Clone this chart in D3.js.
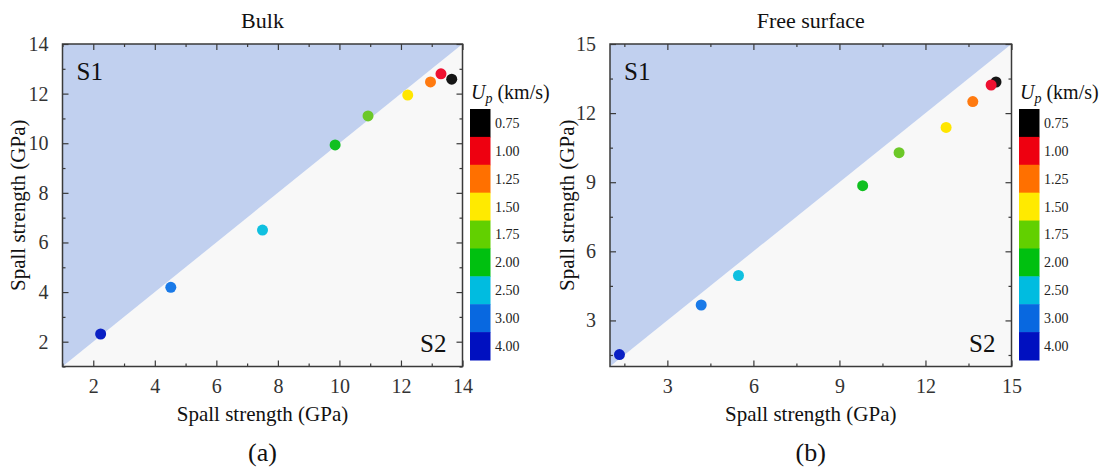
<!DOCTYPE html>
<meta charset="utf-8">
<style>
body { margin: 0; background: #fff; }
svg text { font-family: "Liberation Serif", "Times New Roman", serif; }
.frame { fill: none; stroke: #3a3a3a; stroke-width: 1.5px; }
.axis path { display: none; }
.axis line { stroke: #3a3a3a; stroke-width: 1.2px; }
.axis text { font-size: 20px; fill: #333; }
</style>
<svg width="1108" height="470"></svg>
<script src="https://cdn.jsdelivr.net/npm/d3@7"></script>
<script>

// Up values (km/s) and their colours, shared by both panels
var upLabels = ["0.75", "1.00", "1.25", "1.50", "1.75", "2.00", "2.50", "3.00", "4.00"];
var upColors = ["#000000", "#ee0010", "#ff7000", "#ffea00", "#62d000", "#00c010", "#00bce0", "#0868e0", "#0010c0"];
var dotColors = ["#151515", "#ee1030", "#ff7a10", "#ffe600", "#6cc828", "#10c020", "#10c0e0", "#1a7ae8", "#0a20c4"];

// (a) Bulk
var bulkX = [13.65, 13.30, 12.96, 12.22, 10.93, 9.86, 7.50, 4.52, 2.24];
var bulkY = [12.58, 12.80, 12.47, 11.94, 11.10, 9.93, 6.50, 4.19, 2.31];
var bulkMajor = [2, 4, 6, 8, 10, 12, 14];
var bulkMinor = [1, 3, 5, 7, 9, 11, 13];

// (b) Free surface
var freeX = [14.46, 14.29, 13.65, 12.72, 11.08, 9.81, 5.48, 4.18, 1.33];
var freeY = [13.35, 13.22, 12.50, 11.38, 10.28, 8.85, 4.95, 3.67, 1.52];
var freeMajor = [3, 6, 9, 12, 15];
var freeMinor = [1.5, 4.5, 7.5, 10.5, 13.5];

var svg = d3.select("svg");

var panels = [
  {title: "Bulk", tag: "(a)", left: 62.5, right: 462.5, domain: [1, 14],
   xs: bulkX, ys: bulkY, major: bulkMajor, minor: bulkMinor, cbX: 470, ylabX: 25},
  {title: "Free surface", tag: "(b)", left: 610, right: 1011.5, domain: [1, 15],
   xs: freeX, ys: freeY, major: freeMajor, minor: freeMinor, cbX: 1019, ylabX: 574}
];

var plotTop = 44, plotBottom = 366.5;
var serif = "Liberation Serif, Times New Roman, serif";

panels.forEach(function(p) {
  var x = d3.scaleLinear().domain(p.domain).range([p.left, p.right]),
      y = d3.scaleLinear().domain(p.domain).range([plotBottom, plotTop]);
  var d0 = p.domain[0], d1 = p.domain[1];
  var g = svg.append("g");

  // regions either side of the diagonal
  g.append("path")
      .attr("d", "M" + x(d0) + "," + y(d0) + "L" + x(d1) + "," + y(d0) + "L" + x(d1) + "," + y(d1) + "Z")
      .attr("fill", "#f8f8f8");
  g.append("path")
      .attr("d", "M" + x(d0) + "," + y(d0) + "L" + x(d0) + "," + y(d1) + "L" + x(d1) + "," + y(d1) + "Z")
      .attr("fill", "#c1d0ef");

  // ticks (all inward)
  function ax(axis, tx, ty) {
    g.append("g").attr("class", "axis")
        .attr("transform", "translate(" + tx + "," + ty + ")")
        .call(axis)
        .attr("font-family", serif).attr("font-size", 20);
  }
  ax(d3.axisBottom(x).tickValues(p.major).tickSize(-6).tickPadding(12).tickFormat(d3.format("d")), 0, plotBottom);
  ax(d3.axisBottom(x).tickValues(p.minor).tickSize(-3).tickFormat(""), 0, plotBottom);
  ax(d3.axisTop(x).tickValues(p.major).tickSize(-6).tickFormat(""), 0, plotTop);
  ax(d3.axisTop(x).tickValues(p.minor).tickSize(-3).tickFormat(""), 0, plotTop);
  ax(d3.axisLeft(y).tickValues(p.major).tickSize(-6).tickPadding(14).tickFormat(d3.format("d")), p.left, 0);
  ax(d3.axisLeft(y).tickValues(p.minor).tickSize(-3).tickFormat(""), p.left, 0);
  ax(d3.axisRight(y).tickValues(p.major).tickSize(-6).tickFormat(""), p.right, 0);
  ax(d3.axisRight(y).tickValues(p.minor).tickSize(-3).tickFormat(""), p.right, 0);

  g.append("rect").attr("class", "frame")
      .attr("x", p.left).attr("y", plotTop)
      .attr("width", p.right - p.left).attr("height", plotBottom - plotTop);

  // points
  g.selectAll(".dot")
    .data(p.xs.map(function(v, i) { return {x: v, y: p.ys[i], c: dotColors[i]}; }))
    .enter().append("circle")
      .attr("class", "dot")
      .attr("cx", function(d) { return x(d.x); })
      .attr("cy", function(d) { return y(d.y); })
      .attr("r", 5.5)
      .attr("fill", function(d) { return d.c; });

  // region labels
  g.append("text").attr("x", p.left + 14).attr("y", 80)
      .style("font-size", "25px").attr("fill", "#111").text("S1");
  g.append("text").attr("x", p.right - 16).attr("y", 352).attr("text-anchor", "end")
      .style("font-size", "25px").attr("fill", "#111").text("S2");

  // titles and axis labels
  var cx = (p.left + p.right) / 2;
  g.append("text").attr("x", cx).attr("y", 28).attr("text-anchor", "middle")
      .style("font-size", "22px").attr("fill", "#111").text(p.title);
  g.append("text").attr("x", cx).attr("y", 421).attr("text-anchor", "middle")
      .style("font-size", "21px").attr("fill", "#111").text("Spall strength (GPa)");
  g.append("text").attr("transform", "translate(" + p.ylabX + "," + ((plotTop + plotBottom) / 2) + ") rotate(-90)")
      .attr("text-anchor", "middle")
      .style("font-size", "21px").attr("fill", "#111").text("Spall strength (GPa)");
  g.append("text").attr("x", cx).attr("y", 461).attr("text-anchor", "middle")
      .style("font-size", "26px").attr("fill", "#111").text(p.tag);

  // colour bar
  var cb = d3.scaleBand().domain(upLabels).range([109, 360]);
  var bar = g.append("g");
  bar.selectAll("rect").data(upLabels).enter().append("rect")
      .attr("x", p.cbX).attr("y", function(d) { return cb(d); })
      .attr("width", 20.5).attr("height", cb.bandwidth() + 0.5)
      .attr("fill", function(d, i) { return upColors[i]; });
  bar.selectAll("text").data(upLabels).enter().append("text")
      .attr("x", p.cbX + 25).attr("y", function(d) { return cb(d) + cb.bandwidth() / 2; })
      .attr("dy", "0.35em")
      .style("font-size", "14px").attr("fill", "#222").text(function(d) { return d; });
  var t = g.append("text").attr("x", p.cbX + 1).attr("y", 99)
      .style("font-size", "20px").attr("fill", "#111");
  t.append("tspan").style("font-style", "italic").text("U");
  t.append("tspan").style("font-style", "italic").style("font-size", "14px").attr("dy", 4).text("p");
  t.append("tspan").attr("dy", -4).text(" (km/s)");
});

</script>
